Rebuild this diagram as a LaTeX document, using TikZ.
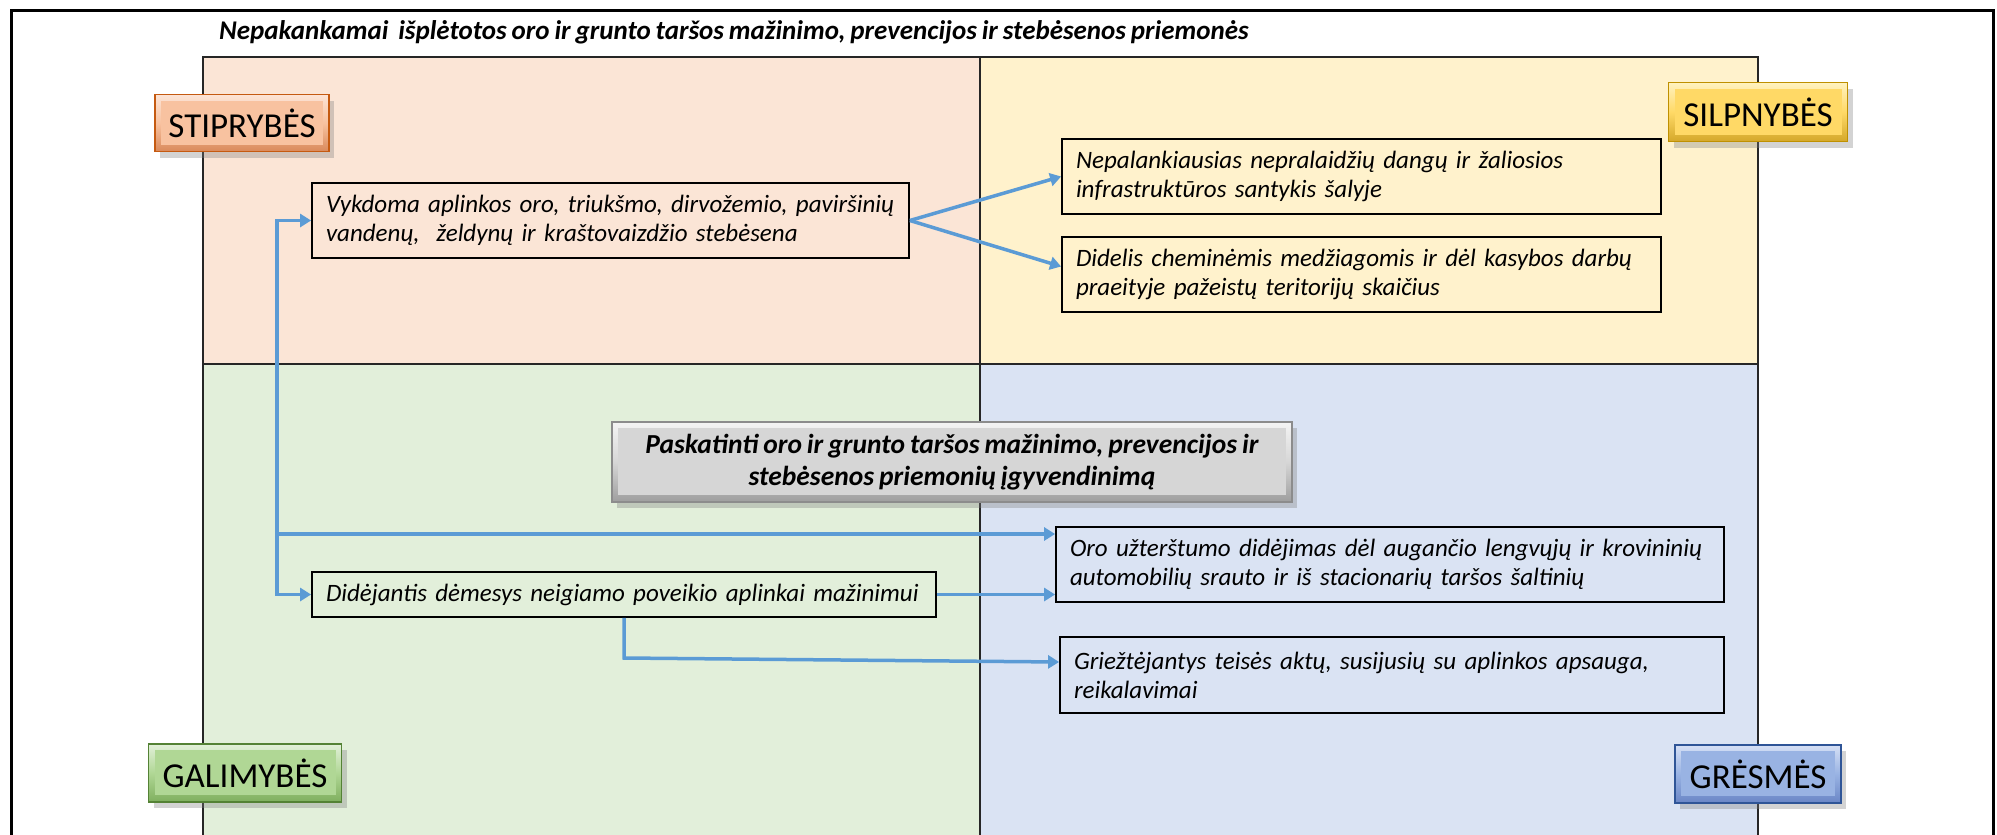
\documentclass[tikz,border=0pt]{standalone}
\usepackage{fontspec}
\setmainfont{Carlito}[WordSpace=0.8]
\usetikzlibrary{arrows.meta,shadows,calc}
\definecolor{qTL}{HTML}{FBE5D6}
\definecolor{qTR}{HTML}{FFF2CC}
\definecolor{qBL}{HTML}{E2EFDA}
\definecolor{qBR}{HTML}{DAE3F3}
\definecolor{arrowblue}{HTML}{5B9BD5}
\definecolor{sD}{HTML}{C55A11}\definecolor{sT}{HTML}{FCE4D6}\definecolor{sM}{HTML}{F8C2A0}\definecolor{sB}{HTML}{D9895A}
\definecolor{wD}{HTML}{BF9000}\definecolor{wT}{HTML}{FFF2C0}\definecolor{wM}{HTML}{FFD966}\definecolor{wB}{HTML}{D4A82A}
\definecolor{oD}{HTML}{548235}\definecolor{oT}{HTML}{E2F0D9}\definecolor{oM}{HTML}{B0D795}\definecolor{oB}{HTML}{7FAF5E}
\definecolor{tD}{HTML}{2F5597}\definecolor{tT}{HTML}{D6E0F5}\definecolor{tM}{HTML}{99B3E3}\definecolor{tB}{HTML}{6A86C6}
\definecolor{mD}{HTML}{8C8C8C}\definecolor{mT}{HTML}{F4F4F4}\definecolor{mM}{HTML}{D6D6D6}\definecolor{mB}{HTML}{9E9E9E}
\begin{document}
\begin{tikzpicture}[x=1pt,y=-1pt,
  gridline/.style={draw=black!85,line width=1.5pt},
  txtbox/.style={draw=black,line width=1.8pt,inner xsep=14pt,inner ysep=0pt,
    align=left,font=\itshape\fontsize{25}{29}\selectfont,anchor=center},
  bevel/.style n args={3}{top color=#1,bottom color=#3,middle color=#2,
    path picture={\fill[#2] ($(path picture bounding box.south west)+(6,-7)$) rectangle ($(path picture bounding box.north east)+(-6,6)$);}},
  label/.style={line width=1.3pt,inner sep=0pt,anchor=center,
    font=\fontsize{35}{38}\selectfont,drop shadow={shadow xshift=5pt,shadow yshift=-6pt,opacity=0.35}},
  conn/.style={draw=arrowblue,line width=3.5pt,-{Triangle[length=11pt,width=13pt]}},
]
\useasboundingbox (0,0) rectangle (1997,835);
\clip (0,0) rectangle (1997,835);
% quadrants
\fill[qTL] (203,57) rectangle (980,364);
\fill[qTR] (980,57) rectangle (1758,364);
\fill[qBL] (203,364) rectangle (980,860);
\fill[qBR] (980,364) rectangle (1758,860);
\draw[gridline] (203,57) rectangle (1758,870);
\draw[gridline] (980,57) -- (980,870);
\draw[gridline] (203,364) -- (1758,364);
% outer frame
\draw[line width=3pt] (11,10) rectangle (1993,900);
% title
\node[anchor=west,inner sep=0pt,font=\bfseries\itshape\fontsize{27}{30}\selectfont] (title) at (219,32)
  {Nepakankamai\ \ išplėtotos oro ir grunto taršos mažinimo, prevencijos ir stebėsenos priemonės};
% labels
\node[label,draw=sD,bevel={sT}{sM}{sB},
  minimum width=174pt,minimum height=57pt] (S) at (242,123) {STIPRYBĖS};
\node[label,draw=wD,bevel={wT}{wM}{wB},
  minimum width=179pt,minimum height=59pt] (W) at (1758,112) {SILPNYBĖS};
\node[label,draw=oD,bevel={oT}{oM}{oB},
  minimum width=193pt,minimum height=58pt] (O) at (245,773) {GALIMYBĖS};
\node[label,draw=tD,bevel={tT}{tM}{tB},
  minimum width=166pt,minimum height=58pt] (T) at (1758,774) {GRĖSMĖS};
% text boxes
\node[txtbox,minimum width=597pt,minimum height=75pt,text width=569pt] (A) at (610.5,220.5)
  {Vykdoma aplinkos oro, triukšmo, dirvožemio, paviršinių\\vandenų,\ \ želdynų ir kraštovaizdžio stebėsena};
\node[txtbox,minimum width=599pt,minimum height=75pt,text width=571pt] (B) at (1361.5,176.5)
  {Nepalankiausias nepralaidžių dangų ir žaliosios\\infrastruktūros santykis šalyje};
\node[txtbox,minimum width=599pt,minimum height=75pt,text width=571pt] (C) at (1361.5,274.5)
  {Didelis cheminėmis medžiagomis ir dėl kasybos darbų\\praeityje pažeistų teritorijų skaičius};
\node[draw=mD,line width=1.5pt,bevel={mT}{mM}{mB},
  minimum width=680pt,minimum height=80pt,inner sep=0pt,align=center,
  font=\bfseries\itshape\fontsize{27.5}{32}\selectfont,
  drop shadow={shadow xshift=5pt,shadow yshift=-6pt,opacity=0.35}] (M) at (952,462)
  {Paskatinti oro ir grunto taršos mažinimo, prevencijos ir\\stebėsenos priemonių įgyvendinimą};
\node[txtbox,minimum width=624pt,minimum height=45pt,text width=596pt] (D) at (624,594.5)
  {Didėjantis dėmesys neigiamo poveikio aplinkai mažinimui};
\node[txtbox,minimum width=668pt,minimum height=75pt,text width=640pt] (E) at (1390,564.5)
  {Oro užterštumo didėjimas dėl augančio lengvųjų ir krovininių\\automobilių srauto ir iš stacionarių taršos šaltinių};
\node[txtbox,minimum width=664pt,minimum height=76pt,text width=636pt] (F) at (1392,675)
  {Griežtėjantys teisės aktų, susijusių su aplinkos apsauga,\\reikalavimai};
% connectors
\draw[conn] (A.east) -- (B.west);
\draw[conn] (A.east) -- ($(C.west)+(0,-8)$);
\coordinate (j) at (277,534);
\draw[conn] (j) |- (A.west);
\draw[conn] (j) |- (D.west);
\draw[conn] (j) -- (j -| E.west);
\draw[conn] (D.east) -- (D.east -| E.west);
\coordinate (k) at (624,658);
\draw[conn] (D.south) -- (k) -- ($(F.west)+(0,-13)$);
\end{tikzpicture}
\end{document}
